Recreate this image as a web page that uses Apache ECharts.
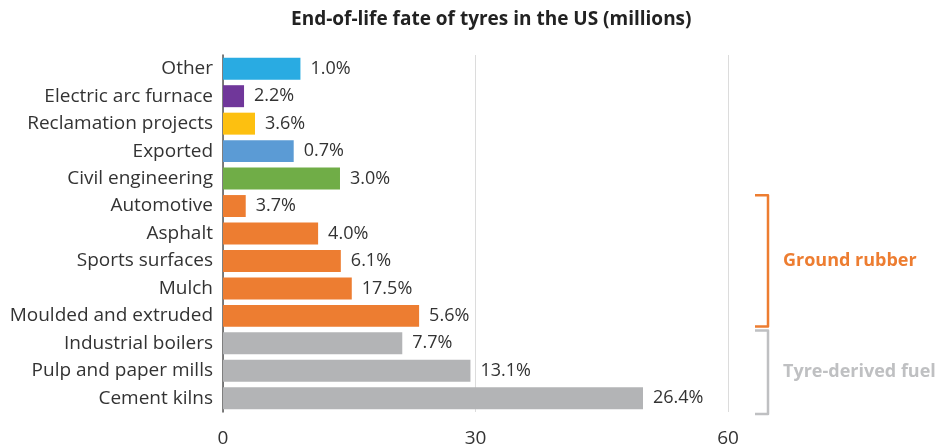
<!DOCTYPE html>
<html>
<head>
<meta charset="utf-8">
<script src="https://cdn.jsdelivr.net/npm/echarts@6/dist/echarts.min.js"></script>
<style>
  html, body { margin: 0; padding: 0; background: #fff; }
  #chart { width: 947px; height: 448px; }
</style>
</head>
<body>
<div id="chart"></div>
<script>
// End-of-life destinations, top to bottom
const categories = [
  'Other', 'Electric arc furnace', 'Reclamation projects', 'Exported',
  'Civil engineering', 'Automotive', 'Asphalt', 'Sports surfaces', 'Mulch',
  'Moulded and extruded', 'Industrial boilers', 'Pulp and paper mills', 'Cement kilns'
];
// Tyres in millions
const millions = [9.2, 2.5, 3.8, 8.4, 13.9, 2.7, 11.3, 14.0, 15.3, 23.3, 21.3, 29.4, 49.9];
// Share labels shown beside each bar
const shareLabels = ['1.0%', '2.2%', '3.6%', '0.7%', '3.0%', '3.7%', '4.0%', '6.1%', '17.5%', '5.6%', '7.7%', '13.1%', '26.4%'];
const barColors = [
  '#29ABE2', '#70379A', '#FDC010', '#5B9BD5', '#70AD47',
  '#ED7D31', '#ED7D31', '#ED7D31', '#ED7D31', '#ED7D31',
  '#B3B4B6', '#B3B4B6', '#B3B4B6'
];
const xTicks = [0, 30, 60];
// Grouped ranges marked with brackets on the right
const groups = [
  { name: 'Ground rubber', from: 'Automotive', to: 'Moulded and extruded', color: '#ED7D31', inset: [3, 3] },
  { name: 'Tyre-derived fuel', from: 'Industrial boilers', to: 'Cement kilns', color: '#BFC0C2', inset: [1, -2] }
];

const FONT = "'Open Sans', 'Noto Sans', sans-serif";
const chart = echarts.init(document.getElementById('chart'), null, { renderer: 'canvas' });

chart.setOption({
  animation: false,
  backgroundColor: '#ffffff',
  title: {
    text: 'End-of-life fate of tyres in the US (millions)',
    left: 286, top: 5,
    textStyle: { fontFamily: FONT, fontSize: 19, fontWeight: 'bold', color: '#222' }
  },
  grid: { left: 223, right: 219, top: 55, bottom: 35, containLabel: false },
  xAxis: {
    type: 'value',
    min: xTicks[0], max: xTicks[xTicks.length - 1], interval: 30,
    axisLine: { show: false },
    axisTick: { show: false },
    splitLine: { show: true, lineStyle: { color: '#dcdcdc', width: 1 } },
    axisLabel: { fontFamily: FONT, fontSize: 19, color: '#333', margin: 17 }
  },
  yAxis: {
    type: 'category',
    data: categories,
    inverse: true,
    axisLine: { show: true, lineStyle: { color: '#555', width: 1.5 } },
    axisTick: { show: false },
    axisLabel: { fontFamily: FONT, fontSize: 19, color: '#333', margin: 10 }
  },
  series: [{
    type: 'bar',
    barCategoryGap: '20%',
    data: millions.map((v, i) => ({ value: v, itemStyle: { color: barColors[i] } })),
    label: {
      show: true, position: 'right', distance: 10,
      fontFamily: FONT, fontSize: 18, color: '#333',
      formatter: p => shareLabels[p.dataIndex]
    }
  }]
});

// Brackets placed from the category axis scale
function drawBrackets() {
  const band = chart.convertToPixel({ yAxisIndex: 0 }, categories[1]) - chart.convertToPixel({ yAxisIndex: 0 }, categories[0]);
  const xLine = 768, xTick = 755;
  const elements = [];
  groups.forEach(g => {
    const top = chart.convertToPixel({ yAxisIndex: 0 }, g.from) - band / 2 + g.inset[0];
    const bottom = chart.convertToPixel({ yAxisIndex: 0 }, g.to) + band / 2 - g.inset[1];
    elements.push({
      type: 'polyline',
      shape: { points: [[xTick, top], [xLine, top], [xLine, bottom], [xTick, bottom]] },
      style: { stroke: g.color, lineWidth: 2.5, fill: null, lineJoin: 'round' }
    });
    elements.push({
      type: 'text',
      x: 783, y: (top + bottom) / 2,
      style: {
        text: g.name, fill: g.color, font: 'bold 18px ' + FONT,
        textVerticalAlign: 'middle', verticalAlign: 'middle'
      }
    });
  });
  chart.setOption({ graphic: { elements } });
}
drawBrackets();
</script>
</body>
</html>
